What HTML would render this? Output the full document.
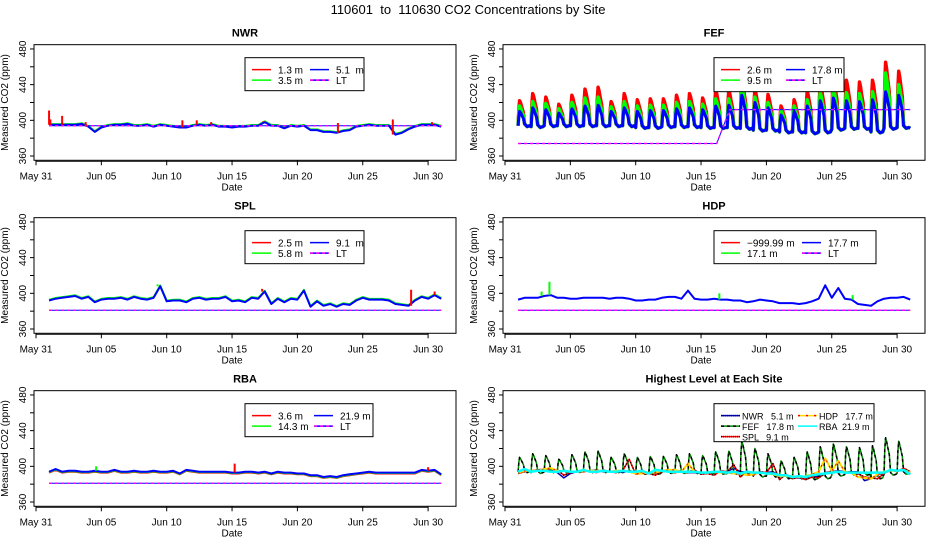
<!DOCTYPE html>
<html><head><meta charset="utf-8"><style>
html,body{margin:0;padding:0;background:#fff;}
svg{display:block;font-family:"Liberation Sans",sans-serif;}
text{white-space:pre;}
</style></head><body>
<svg id="chart" width="936" height="540" viewBox="0 0 936 540" xmlns="http://www.w3.org/2000/svg">
<rect width="936" height="540" fill="#fff"/>
<text x="468" y="14" text-anchor="middle" font-size="13">110601  to  110630 CO2 Concentrations by Site</text>
</svg>
<script>
// ---- data (half-day samples, Jun 1.0 .. Jul 1.0) ----
const tickLabels = ["May 31","Jun 05","Jun 10","Jun 15","Jun 20","Jun 25","Jun 30"];
const tickDays = [0,5,10,15,20,25,30];
const yTicks = [360,380,400,420,440,460,480];
const yLabels = [360,400,440,480];

const nwrBlue = [395,395,395,395,395,396,393,387,392,394,395,395,396,394,394,395,393,395,394,393,392,392,394,395,394,395,393,393,392,393,393,394,394,398,394,394,391,394,393,394,389,389,387,387,386,388,389,393,394,395,394,394,394,384,386,390,393,395,395,395,393];
const nwrLT = 394;
const nwrRedDays = [1.0,1.1,2.0,3.8,11.2,12.3,13.4,17.4,23.1,27.3,30.3];
const nwrRedVals = [411,401,405,398,400,400,398,399,397,401,398];

const splBlue = [392,394,395,396,397,394,396,390,393,394,394,395,393,396,394,393,395,408,391,392,392,390,394,395,393,394,394,396,391,392,390,395,394,402,388,394,390,394,393,403,385,391,386,388,385,388,387,392,395,393,393,393,392,388,387,386,392,396,394,398,394];
const splLT = 381;
const splRedDays = [17.3,28.7,30.5];
const splRedVals = [405,404,402];
const splGreenDays = [9.3];
const splGreenVals = [410];

const hdpBlue = [393,395,395,395,397,398,395,395,394,394,395,395,395,395,394,395,395,394,392,392,393,393,395,396,396,394,403,394,393,393,394,393,393,392,392,390,391,393,392,391,389,389,389,388,389,391,394,409,395,406,394,393,388,387,386,391,394,395,395,396,393];
const hdpLT = 381;
const hdpGreenDays = [2.8,3.4,16.4,26.6];
const hdpGreenVals = [402,413,400,398];

const rbaBlue = [394,397,394,395,395,394,394,395,394,394,396,394,394,395,394,394,395,394,394,395,392,396,395,394,394,394,394,394,393,393,394,394,393,394,392,394,393,393,392,392,390,390,388,389,388,390,391,392,393,394,393,393,393,393,393,393,393,396,395,396,391];
const rbaLT = 381;
const rbaRedDays = [15.2,30.0];
const rbaRedVals = [403,399];
const rbaGreenDays = [4.6];
const rbaGreenVals = [400];

// FEF daily values (Jun 1 .. Jun 30)
const fefRed = [422,430,426,418,428,435,437,421,430,423,424,424,428,430,425,434,434,446,435,429,416,423,433,444,450,445,443,445,465,455];
const fefGreen = [416,421,419,413,420,425,426,415,421,416,417,417,420,421,418,424,424,437,426,420,411,416,423,431,436,431,430,432,453,440];
const fefBlue = [410,414,412,408,413,416,417,410,414,410,411,411,413,414,412,416,417,428,420,414,406,410,416,422,425,422,421,423,432,428];
const fefBase = [393,392,393,393,393,393,393,393,393,391,391,392,392,392,391,391,391,390,388,388,386,386,385,386,389,390,390,386,390,391];
const fefLTDays = [1.0,16.2,17.2,31.0];
const fefLTVals = [374,374,412,412];

const svg = document.getElementById('chart');
const NS = 'http://www.w3.org/2000/svg';
function mk(tag, attrs, parent){
  const e = document.createElementNS(NS, tag);
  for (const k in attrs) e.setAttribute(k, attrs[k]);
  (parent||svg).appendChild(e);
  return e;
}
function txt(s, attrs, parent){ const e = mk('text', attrs, parent); e.textContent = s; return e; }

function halfDays(arr){ return arr.map((v,i)=>[1+i*0.5, v]); }
function fefSeries(peaks){
  const pts = [];
  for (let k=0;k<peaks.length;k++){
    const d = k+1, b = fefBase[k], p = peaks[k];
    pts.push([d,b+1]);
    pts.push([d+0.06,b+(p-b)*0.7]);
    pts.push([d+0.12,p]);
    pts.push([d+0.2,p-(p-b)*0.1]);
    pts.push([d+0.28,p-(p-b)*0.25]);
    pts.push([d+0.4,p-(p-b)*0.45]);
    pts.push([d+0.5,b+3]);
    pts.push([d+0.7,b]);
    pts.push([d+0.9,b+1]);
  }
  pts.push([31,fefBase[fefBase.length-1]]);
  return pts;
}

function panel(cfg){
  const g = mk('g', {});
  
  
  const x = d => cfg.x0 + d*13.07;
  const y = v => cfg.yb - (v-360)*0.892;
  const top = y(484.8), bot = y(355.2);
  const L = cfg.x0 - 2, R = cfg.x0 + 420;
  const t = txt(cfg.title, {x:(L+R)/2, y:top-8, 'text-anchor':'middle', 'font-size':11, 'font-weight':'bold'}, g);
  
  
  const box = mk('rect', {x:L, y:top, width:R-L, height:bot-top, fill:'none', stroke:'#000', 'stroke-width':1}, g);
  
  
  const ya = mk('g', {}, g);
  
  
  yTicks.forEach(v=>{ mk('line',{x1:L-4,x2:L,y1:y(v),y2:y(v),stroke:'#000'},ya); });
  yLabels.forEach(v=>{
    const lt = txt(String(v), {x:L-8, y:y(v), 'text-anchor':'middle', 'font-size':10, transform:`rotate(-90 ${L-8} ${y(v)})`}, ya);
    
    
  });
  const yt = txt('Measured CO2 (ppm)', {x:cfg.x0-28, y:(top+bot)/2, 'text-anchor':'middle', 'font-size':10, transform:`rotate(-90 ${cfg.x0-28} ${(top+bot)/2})`}, g);
  
  
  const xa = mk('g', {}, g);
  
  
  mk('line',{x1:x(0),x2:x(30),y1:bot+1,y2:bot+1,stroke:'#000'},xa);
  tickDays.forEach((d,i)=>{
    mk('line',{x1:x(d),x2:x(d),y1:bot,y2:bot+5,stroke:'#000'},xa);
    const lt = txt(tickLabels[i], {x:x(d), y:bot+19, 'text-anchor':'middle', 'font-size':10}, xa);
    
    
  });
  const xt = txt('Date', {x:x(15), y:bot+30, 'text-anchor':'middle', 'font-size':10}, g);
  
  
  cfg.series.forEach(s=>{
    const p = mk('polyline', {points:s.pts.map(q=>x(q[0]).toFixed(1)+','+y(q[1]).toFixed(1)).join(' '), fill:'none', stroke:s.color, 'stroke-width':s.w||2, 'stroke-linejoin':'round'}, g);
    if (s.dash) p.setAttribute('stroke-dasharray', s.dash);
    
    
  });
  (cfg.spikes||[]).forEach(s=>{
    s.days.forEach((d,i)=>{
      const base = s.base[Math.round((d-1)*2)];
      const sp = mk('line', {x1:x(d), x2:x(d), y1:y(base), y2:y(s.vals[i]), stroke:s.color, 'stroke-width':2}, g);
      
      
    });
  });
  const lg = mk('g', {}, g);
  
  
  const lx = cfg.x0 + 209, ly = top + 13;
  mk('rect', {x:lx, y:ly, width:cfg.legW, height:cfg.legH, fill:'#fff', stroke:'#000'}, lg);
  cfg.legend.forEach((e,i)=>{
    const col = i % 2, row = Math.floor(i/2);
    const ex = lx + 7 + col*cfg.colW, ey = ly + 12 + row*10.5;
    const item = mk('g', {}, lg);
    
    
    mk('line', {x1:ex, x2:ex+19, y1:ey, y2:ey, stroke:e.c, 'stroke-width':e.w||1.5}, item);
    if (e.c2) mk('line', {x1:ex, x2:ex+19, y1:ey, y2:ey, stroke:e.c2, 'stroke-width':1.5, 'stroke-dasharray':e.d||'3,3'}, item);
    txt(e.t, {x:ex+cfg.txtOff, y:ey+4, 'font-size':cfg.fs||10}, item);
  });
}

const L0 = 36, R0 = 505;
const flatLT = (v, nm) => ({name:nm, pts:[[1,v],[31,v]], color:'#0000ff', w:1});
const flatLT2 = (v, nm) => ({name:nm, pts:[[1,v],[31,v]], color:'#ff00ff', w:1.5, dash:'3,3'});

panel({name:'nwr', title:'NWR', x0:L0, yb:156, legW:119, legH:33, colW:58, txtOff:26,
  series:[
    {name:'nwr-3.5m-line', pts:halfDays(nwrBlue).map(q=>[q[0],q[1]+0.8]), color:'#00ff00'},
    {name:'nwr-5.1m-line', pts:halfDays(nwrBlue), color:'#0000ff'},
    flatLT(nwrLT,'nwr-lt-line'), flatLT2(nwrLT,'nwr-lt-dash')],
  spikes:[{name:'nwr-1.3m-spike', days:nwrRedDays, vals:nwrRedVals, base:nwrBlue, color:'#ff0000'}],
  legend:[{t:'1.3 m',c:'#ff0000'},{t:'5.1  m',c:'#0000ff'},{t:'3.5 m',c:'#00ff00'},{t:'LT',c:'#0000ff',c2:'#ff00ff'}]
});

panel({name:'fef', title:'FEF', x0:R0, yb:156, legW:130, legH:34, colW:65, txtOff:26,
  series:[
    {name:'fef-2.6m-line', pts:fefSeries(fefRed), color:'#ff0000', w:3.5},
    {name:'fef-9.5m-line', pts:fefSeries(fefGreen), color:'#00ff00', w:3.5},
    {name:'fef-17.8m-line', pts:fefSeries(fefBlue), color:'#0000ff', w:3},
    {name:'fef-lt-line', pts:fefLTDays.map((d,i)=>[d,fefLTVals[i]]), color:'#0000ff', w:1},
    {name:'fef-lt-dash', pts:fefLTDays.map((d,i)=>[d,fefLTVals[i]]), color:'#ff00ff', w:1.5, dash:'3,3'}],
  legend:[{t:'2.6 m',c:'#ff0000'},{t:'17.8 m',c:'#0000ff'},{t:'9.5 m',c:'#00ff00'},{t:'LT',c:'#0000ff',c2:'#ff00ff'}]
});

panel({name:'spl', title:'SPL', x0:L0, yb:329, legW:119, legH:33, colW:58, txtOff:26,
  series:[
    {name:'spl-5.8m-line', pts:halfDays(splBlue).map(q=>[q[0],q[1]+0.8]), color:'#00ff00'},
    {name:'spl-9.1m-line', pts:halfDays(splBlue), color:'#0000ff'},
    flatLT(splLT,'spl-lt-line'), flatLT2(splLT,'spl-lt-dash')],
  spikes:[{name:'spl-2.5m-spike', days:splRedDays, vals:splRedVals, base:splBlue, color:'#ff0000'},
          {name:'spl-5.8m-spike', days:splGreenDays, vals:splGreenVals, base:splBlue, color:'#00ff00'}],
  legend:[{t:'2.5 m',c:'#ff0000'},{t:'9.1  m',c:'#0000ff'},{t:'5.8 m',c:'#00ff00'},{t:'LT',c:'#0000ff',c2:'#ff00ff'}]
});

panel({name:'hdp', title:'HDP', x0:R0, yb:329, legW:162, legH:33, colW:81, txtOff:26,
  series:[
    {name:'hdp-17.7m-line', pts:halfDays(hdpBlue), color:'#0000ff'},
    flatLT(hdpLT,'hdp-lt-line'), flatLT2(hdpLT,'hdp-lt-dash')],
  spikes:[{name:'hdp-17.1m-spike', days:hdpGreenDays, vals:hdpGreenVals, base:hdpBlue, color:'#00ff00'}],
  legend:[{t:'\u2212999.99 m',c:'#ff0000'},{t:'17.7 m',c:'#0000ff'},{t:'17.1 m',c:'#00ff00'},{t:'LT',c:'#0000ff',c2:'#ff00ff'}]
});

panel({name:'rba', title:'RBA', x0:L0, yb:502, legW:128, legH:33, colW:62, txtOff:26,
  series:[
    {name:'rba-3.6m-line', pts:halfDays(rbaBlue).map(q=>[q[0],q[1]-1]), color:'#ff0000'},
    {name:'rba-14.3m-line', pts:halfDays(rbaBlue).map(q=>[q[0],q[1]-0.5]), color:'#00ff00'},
    {name:'rba-21.9m-line', pts:halfDays(rbaBlue), color:'#0000ff'},
    flatLT(rbaLT,'rba-lt-line'), flatLT2(rbaLT,'rba-lt-dash')],
  spikes:[{name:'rba-3.6m-spike', days:rbaRedDays, vals:rbaRedVals, base:rbaBlue, color:'#ff0000'},
          {name:'rba-14.3m-spike', days:rbaGreenDays, vals:rbaGreenVals, base:rbaBlue, color:'#00ff00'}],
  legend:[{t:'3.6 m',c:'#ff0000'},{t:'21.9 m',c:'#0000ff'},{t:'14.3 m',c:'#00ff00'},{t:'LT',c:'#0000ff',c2:'#ff00ff'}]
});

panel({name:'highest', title:'Highest Level at Each Site', x0:R0, yb:502, legW:160, legH:38, colW:77, txtOff:21, fs:9,
  series:[
    {name:'highest-nwr-line', pts:halfDays(nwrBlue), color:'#0000aa', w:1.5},
    {name:'highest-fef-line', pts:fefSeries(fefBlue), color:'#008800', w:1.5},
    {name:'highest-fef-dash', pts:fefSeries(fefBlue), color:'#000', w:1.5, dash:'3,3'},
    {name:'highest-spl-line', pts:halfDays(splBlue), color:'#ff0000', w:1.5},
    {name:'highest-spl-dots', pts:halfDays(splBlue), color:'#000', w:1.5, dash:'1,2'},
    {name:'highest-hdp-line', pts:halfDays(hdpBlue), color:'#ffdd00', w:2},
    {name:'highest-hdp-dash', pts:halfDays(hdpBlue), color:'#ff0000', w:1, dash:'2,4'},
    {name:'highest-rba-line', pts:halfDays(rbaBlue), color:'#00ffff', w:2.5}],
  legend:[{t:'NWR   5.1 m',c:'#0000aa',c2:'#000',d:'1,1'},{t:'HDP   17.7 m',c:'#ffdd00',c2:'#ff0000',d:'2,6'},{t:'FEF   17.8 m',c:'#008800',c2:'#000'},{t:'RBA  21.9 m',c:'#00ffff'},{t:'SPL   9.1 m',c:'#ff0000',c2:'#000',d:'1,1'}]
});
</script>
</body></html>
